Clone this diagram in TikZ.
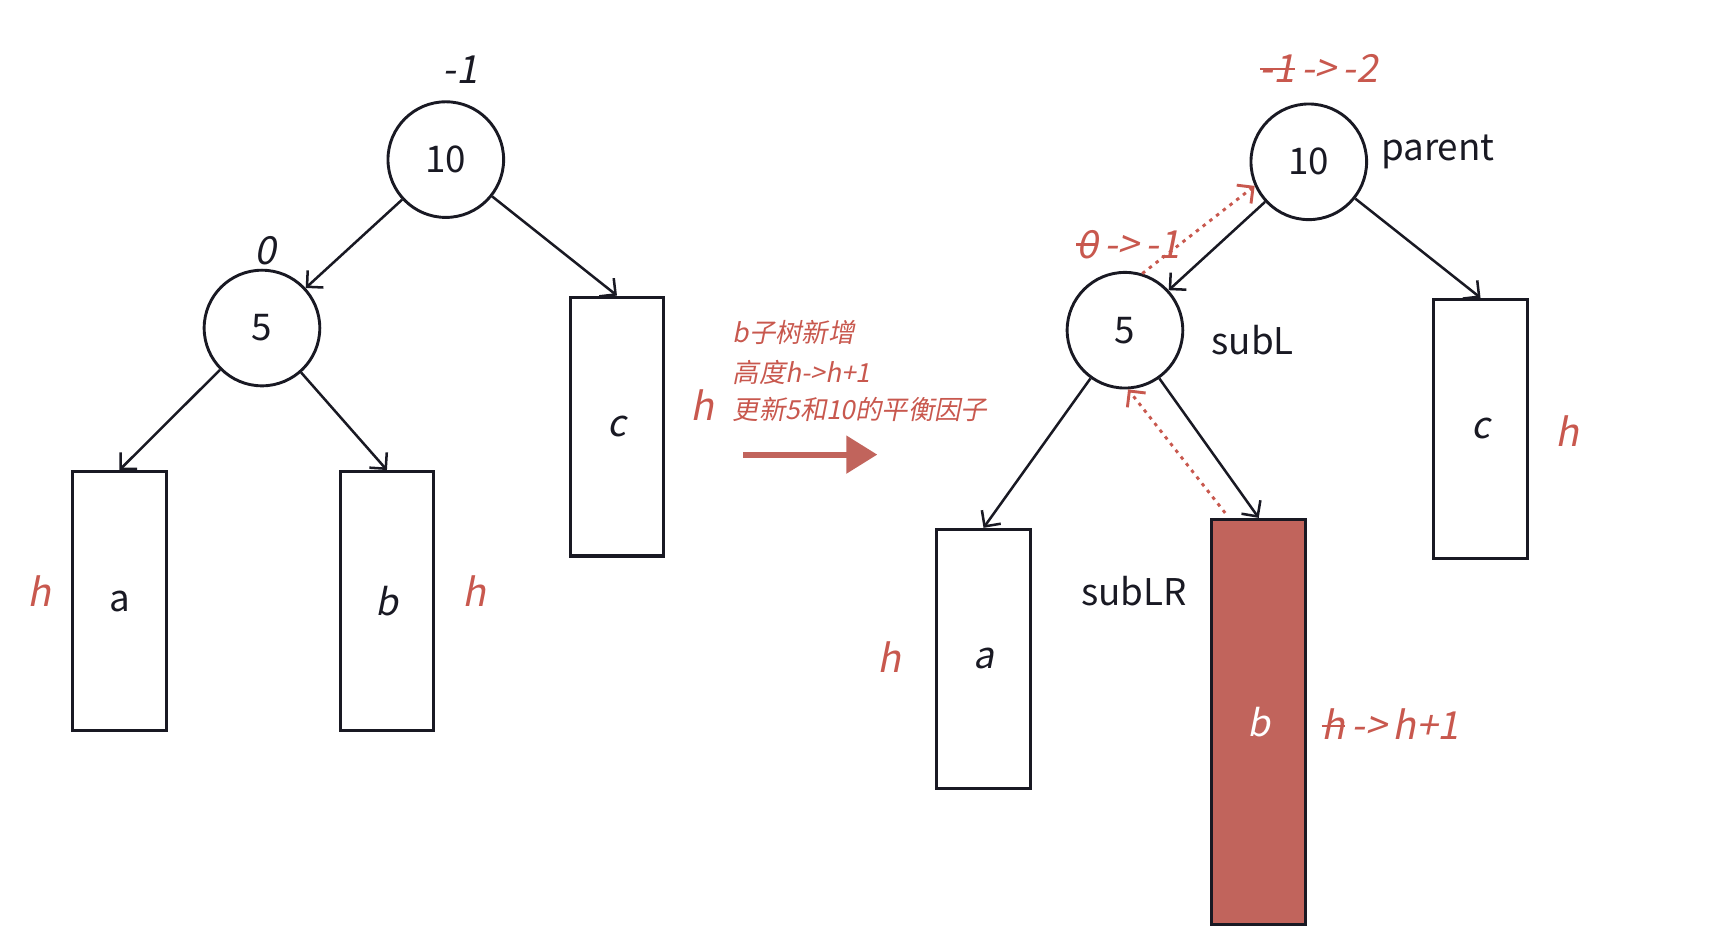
\documentclass[tikz,border=0pt]{standalone}
\usepackage{fontspec}
\setmainfont{Noto Sans CJK SC}
\newfontfamily\slantfont{Noto Sans CJK SC}[FakeSlant=0.2]
\usetikzlibrary{arrows.meta}
\definecolor{ink}{RGB}{25,25,35}
\definecolor{hl}{RGB}{193,100,92}
\definecolor{note}{RGB}{200,88,78}
% struck-out text: a thin rule laid over the box
\newcommand\strk[1]{\setbox0\hbox{#1}\rlap{\raisebox{0.32em}{\rule{\wd0}{0.06em}}}\box0}
\tikzset{
  keynode/.style={circle, draw=ink, line width=0.75pt, minimum size=1.05cm, inner sep=0pt,
    font=\fontsize{9.5}{11}\selectfont, text=ink},
  subtree/.style={rectangle, draw=ink, line width=0.8pt, minimum width=0.85cm,
    minimum height=2.35cm, inner sep=0pt, font=\slantfont\fontsize{9.5}{11}\selectfont, text=ink},
  edge/.style={draw=ink, line width=0.65pt, -{Straight Barb[length=3pt,width=6pt]}},
  bfac/.style={font=\slantfont\fontsize{10}{12}\selectfont, text=ink, inner sep=0pt},
  hmark/.style={font=\slantfont\fontsize{10}{12}\selectfont, text=note, inner sep=0pt},
  role/.style={font=\fontsize{9.5}{11}\selectfont, text=ink, inner sep=0pt},
  memo/.style={font=\slantfont\fontsize{6.8}{8}\selectfont, text=note, inner sep=0pt, anchor=west},
  update/.style={draw=note, line width=0.75pt, dash pattern=on 0.9pt off 1.3pt,
    -{Straight Barb[length=3pt,width=6pt]}},
  bigarrow/.style={draw=hl, line width=1.5pt, -{Triangle[length=8pt,width=9.5pt]}}
}
\begin{document}
\begin{tikzpicture}[x=0.01cm, y=-0.01cm]
\useasboundingbox (0,0) rectangle (1568,861);

% ---- tree before the insertion ----
\node[keynode] (L10) at (405,145) {10};
\node[keynode] (L5) at (238,298) {5};
\node[subtree, font=\fontsize{9.5}{11}\selectfont] (La) at (108.5,546) {a};
\node[subtree] (Lb) at (351.5,546) {b};
\node[subtree] (Lc) at (560.5,387.5) {c};

\node[bfac] (L10f) at (418,63) {-1};
\node[bfac] (L5f) at (241,228) {0};
\node[hmark] (Lah) at (36,537) {h};
\node[hmark] (Lbh) at (431,537) {h};
\node[hmark] (Lch) at (638,368) {h};

\draw[edge] (L10) -- (L5);
\draw[edge] (L10) -- (Lc.north);
\draw[edge] (L5) -- (La.north);
\draw[edge] (L5) -- (Lb.north);

% ---- transition ----
\node[memo] (m1) at (665,302) {b子树新增};
\node[memo] (m2) at (665,338) {高度h->h+1};
\node[memo] (m3) at (665,372) {更新5和10的平衡因子};
\coordinate (arrS) at (675,413);
\coordinate (arrE) at (797,413);
\draw[bigarrow] (arrS) -- (arrE);

% ---- tree after the insertion ----
\node[keynode] (R10) at (1189,147) {10};
\node[keynode] (R5) at (1022,300) {5};
\node[subtree] (Ra) at (893.5,598.5) {a};
\node[subtree, fill=hl, minimum height=3.68cm, text=white] (Rb) at (1143.5,656) {b};
\node[subtree] (Rc) at (1345,389.5) {c};

\node[role, anchor=west] (par) at (1254,138) {parent};
\node[role, anchor=west] (sl) at (1100,309) {subL};
\node[role] (slr) at (1030,537) {subLR};

\node[hmark] (R10f) at (1198,62) {\strk{-1}\,->\,-2};
\node[hmark] (R5f) at (1025,222) {\strk{0}\,->\,-1};
\node[hmark] (Rah) at (808,597) {h};
\node[hmark, anchor=west] (Rbh) at (1200,658) {\strk{h}\,->\,h+1};
\node[hmark] (Rch) at (1424,392) {h};

\draw[edge] (R10) -- (R5);
\draw[edge] (R10) -- (Rc.north);
\draw[edge] (R5) -- (Ra.north);
\draw[edge] (R5) -- (Rb.north);

\coordinate (bt) at (1113,466);
\draw[update] (R5.73) -- (R10.204);
\draw[update] (bt) -- (R5.273);
\end{tikzpicture}
\end{document}
